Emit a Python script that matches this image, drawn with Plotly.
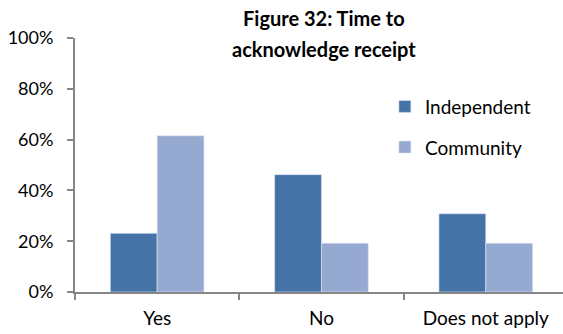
import plotly.graph_objects as go

categories = ["Yes", "No", "Does not apply"]
independent = [0.231, 0.462, 0.308]
community = [0.615, 0.192, 0.192]
y_ticks = [0, 0.2, 0.4, 0.6, 0.8, 1.0]

FONT = "Lato"

fig = go.Figure()
fig.add_trace(go.Bar(
    name="Independent", x=categories, y=independent, legendgroup="ind",
    marker=dict(color="#4572A7", line=dict(color="#dfe6f1", width=0.6)),
))
fig.add_trace(go.Bar(
    name="Community", x=categories, y=community, legendgroup="com",
    marker=dict(color="#95A9D1", line=dict(color="#dfe6f1", width=0.6)),
))

fig.update_layout(
    width=563, height=334,
    margin=dict(l=75, r=0, t=38, b=42),
    paper_bgcolor="white", plot_bgcolor="white",
    barmode="group", bargap=0.43, bargroupgap=0,
    font=dict(family=FONT, size=18, color="#000000"),
    legend=dict(
        x=0.635, y=0.805, xanchor="left", yanchor="top",
        font=dict(family=FONT, size=19), tracegroupgap=13,
        itemwidth=30, bgcolor="rgba(0,0,0,0)",
    ),
    showlegend=True,
)

# Two-line bold title placed as paper annotations
fig.add_annotation(
    text="<b>Figure 32: Time to</b>", xref="paper", yref="paper",
    x=0.51, y=(292 - 18) / 254, xanchor="center", yanchor="middle",
    showarrow=False, font=dict(family=FONT, size=20, color="#000000"),
)
fig.add_annotation(
    text="<b>acknowledge receipt</b>", xref="paper", yref="paper",
    x=0.51, y=(292 - 49) / 254, xanchor="center", yanchor="middle",
    showarrow=False, font=dict(family=FONT, size=20, color="#000000"),
)

fig.update_xaxes(
    range=[-0.5, 2.47], showline=True, linecolor="#868686", linewidth=2,
    ticks="outside", tickson="boundaries", ticklen=6, tickcolor="#868686",
    tickwidth=2, showgrid=False, tickfont=dict(size=19),
    ticklabelstandoff=8,
)
fig.update_yaxes(
    range=[0, 1.0], tickvals=y_ticks, tickformat=".0%",
    showline=True, linecolor="#868686", linewidth=2,
    ticks="outside", ticklen=6, tickcolor="#868686", tickwidth=2,
    showgrid=False, zeroline=False, tickfont=dict(size=18),
    ticklabelstandoff=10,
)

fig.write_html("out.html")
